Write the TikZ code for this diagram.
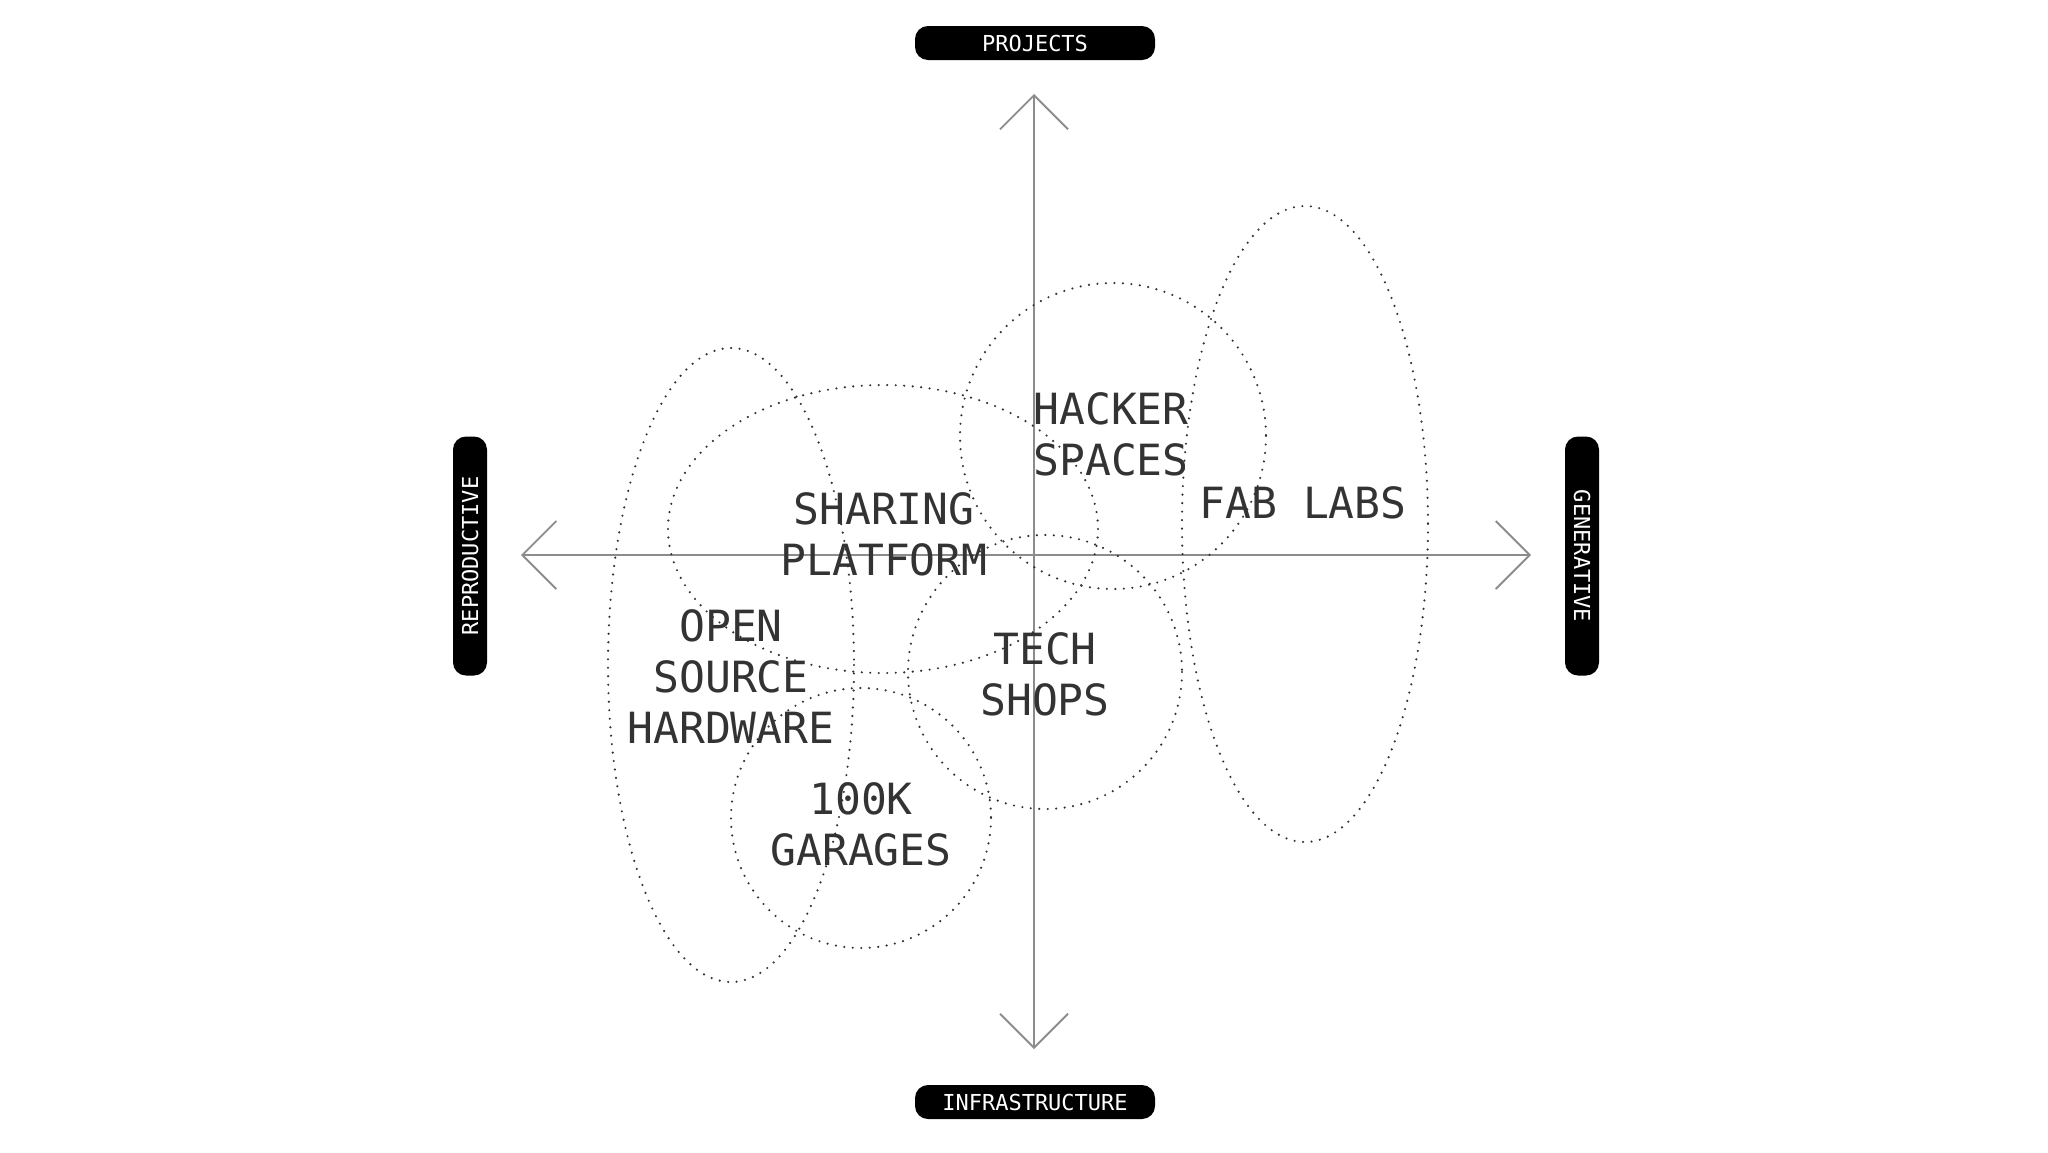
\documentclass[tikz,border=0pt]{standalone}
\usepackage{fontspec}
\setmonofont{DejaVu Sans Mono}
\usetikzlibrary{arrows.meta}
\begin{document}
\begin{tikzpicture}[x=1pt,y=-1pt,
  axisline/.style={draw=black!45,line width=1.8pt,-{Straight Barb[length=34pt,width=68pt,line width=1.8pt]}},
  zone/.style={draw=black!80,line width=2.4pt,line cap=round,dash pattern=on 0pt off 8.5pt},
  pill/.style={fill=black,text=white,rounded corners=13pt,inner sep=0pt,font=\fontsize{22}{22}\selectfont\ttfamily},
  biglabel/.style={align=center,inner sep=0pt,text=black!80,font=\ttfamily\fontsize{43}{51}\selectfont}]
\useasboundingbox (0,0) rectangle (2048,1152);
% axes
\coordinate (o) at (1034,555);
\coordinate (top) at (1034,94);
\coordinate (bot) at (1034,1049);
\coordinate (lft) at (521,555);
\coordinate (rgt) at (1531,555);
\draw[axisline] (o) -- (top);
\draw[axisline] (o) -- (bot);
\draw[axisline] (o) -- (lft);
\draw[axisline] (o) -- (rgt);
% zones
\draw[zone] (731,665) ellipse [x radius=123, y radius=317];
\draw[zone] (883,529) ellipse [x radius=215, y radius=144];
\draw[zone] (1113,436) circle [radius=153];
\draw[zone] (1305,524) ellipse [x radius=123, y radius=318];
\draw[zone] (1045,672) circle [radius=137];
\draw[zone] (861,818) circle [radius=130];
% pills
\node[pill,minimum width=240pt,minimum height=34pt] (projects) at (1035,43) {PROJECTS};
\node[pill,minimum width=240pt,minimum height=34pt] (infra) at (1035,1102) {INFRASTRUCTURE};
\node[pill,minimum width=239pt,minimum height=34pt,rotate=90] (repro) at (470,556) {REPRODUCTIVE};
\node[pill,minimum width=239pt,minimum height=34pt,rotate=-90] (gen) at (1582,556) {GENERATIVE};
% labels
\node[biglabel] (hacker) at (1111,434) {HACKER\\SPACES};
\node[biglabel] (fab) at (1303,503) {FAB LABS};
\node[biglabel] (sharing) at (884,534) {SHARING\\PLATFORM};
\node[biglabel] (osh) at (731,677) {OPEN\\SOURCE\\HARDWARE};
\node[biglabel] (tech) at (1045,674) {TECH\\SHOPS};
\node[biglabel] (garages) at (861,824) {100K\\GARAGES};
\end{tikzpicture}
\end{document}
